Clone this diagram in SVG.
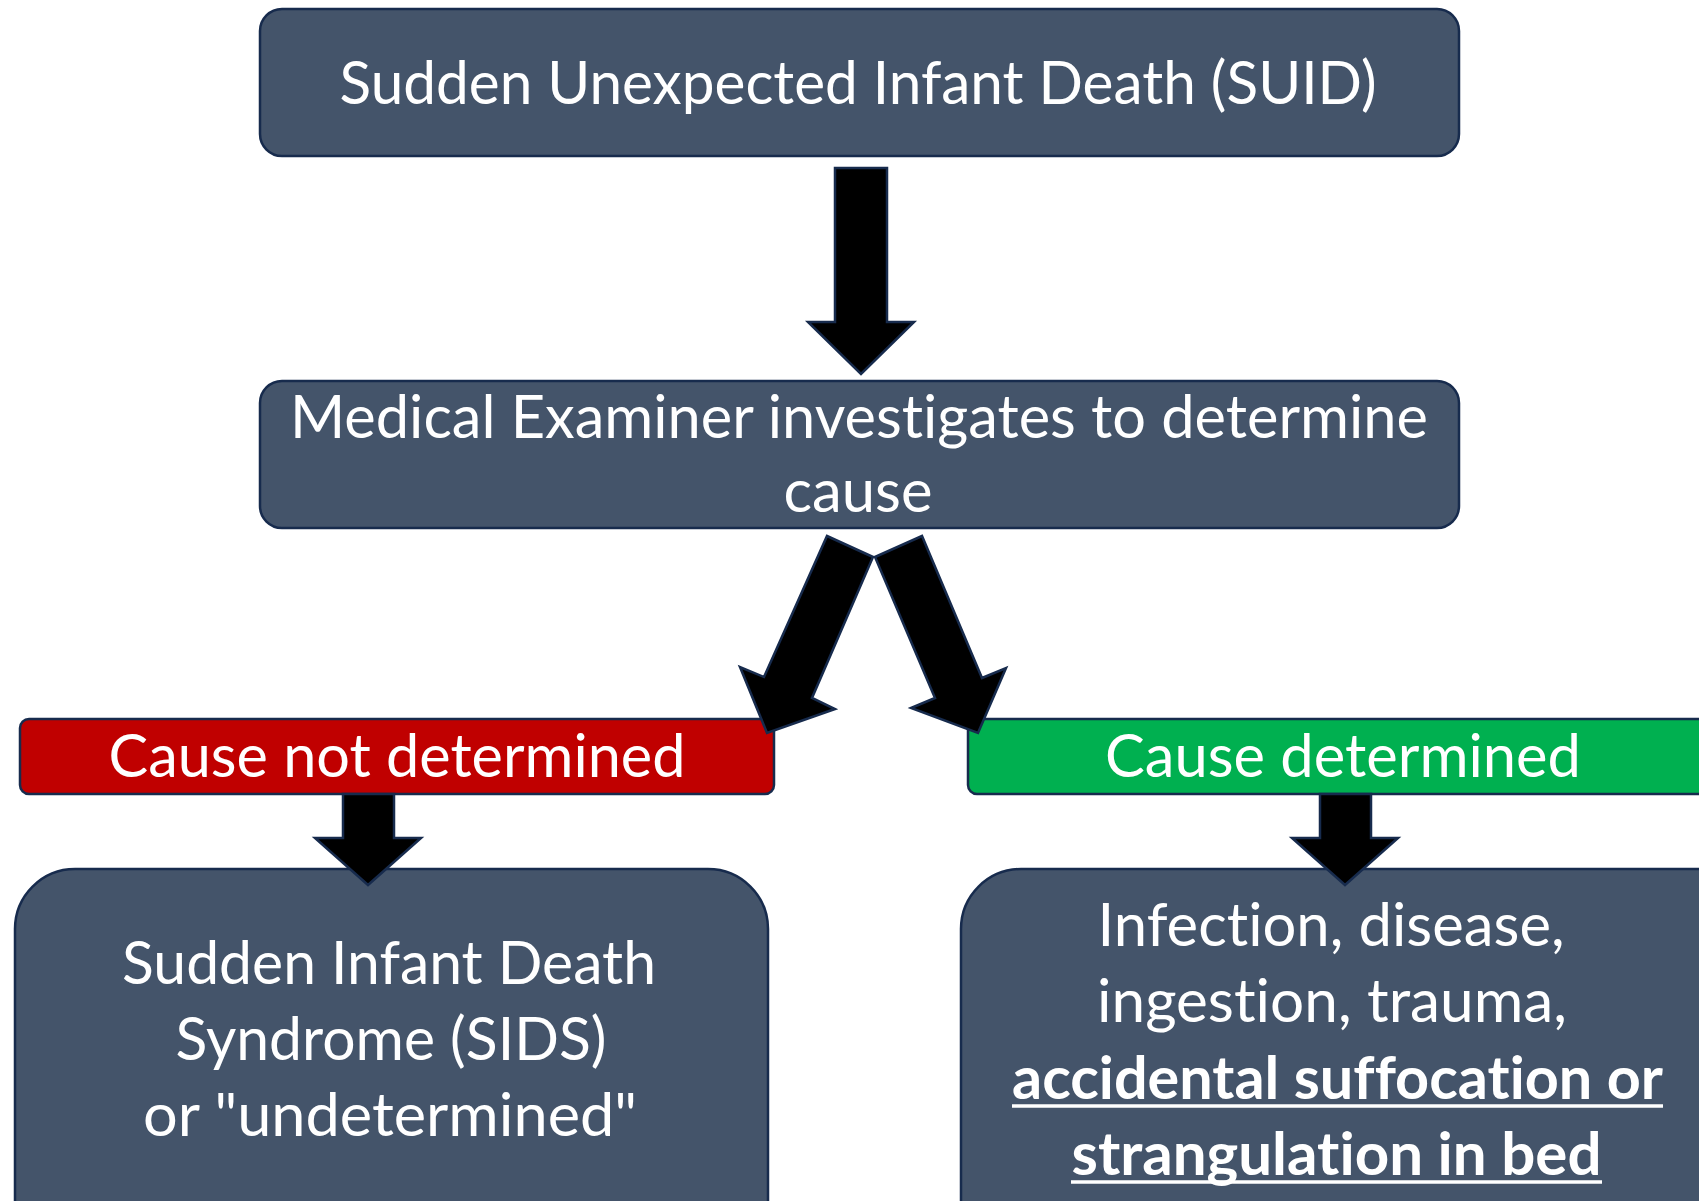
<svg xmlns="http://www.w3.org/2000/svg" width="1699" height="1201" viewBox="0 0 1699 1201">
<style>
.box{fill:#44546A;stroke:#172B4D;stroke-width:2.5}
.red{fill:#C00000;stroke:#172B4D;stroke-width:2.5}
.green{fill:#00B050;stroke:#172B4D;stroke-width:2.5}
.arrow{fill:#000;stroke:#172B4D;stroke-width:2.5;stroke-linejoin:miter}
text{font-family:Lato,"Open Sans","Liberation Sans",sans-serif;font-size:60px;fill:#fff;text-anchor:middle;font-variant-ligatures:none;font-feature-settings:"liga" 0,"dlig" 0}
.b{font-weight:bold}
.ul{stroke:#fff;stroke-width:3.5}
</style>
<rect width="1699" height="1201" fill="#fff"/>
<g id="node-suid">
<rect class="box" x="260" y="9" width="1199" height="147" rx="22"/>
<text x="858" y="104" textLength="1037" lengthAdjust="spacingAndGlyphs">Sudden Unexpected Infant Death (SUID)</text>
</g>
<g id="node-me">
<rect class="box" x="260" y="381" width="1199" height="147" rx="22"/>
<text x="859" y="438" textLength="1138" lengthAdjust="spacingAndGlyphs">Medical Examiner investigates to determine</text>
<text x="858" y="512" textLength="149" lengthAdjust="spacingAndGlyphs">cause</text>
</g>
<g id="node-not-determined">
<rect class="red" x="20" y="719" width="754" height="75" rx="9"/>
<text x="397" y="777" textLength="577" lengthAdjust="spacingAndGlyphs">Cause not determined</text>
</g>
<g id="node-determined">
<rect class="green" x="968" y="719" width="760" height="75" rx="9"/>
<text x="1343" y="777" textLength="476" lengthAdjust="spacingAndGlyphs">Cause determined</text>
</g>
<g id="node-sids">
<rect class="box" x="15" y="869" width="753" height="400" rx="60"/>
<text x="389" y="984" textLength="534" lengthAdjust="spacingAndGlyphs">Sudden Infant Death</text>
<text x="391" y="1060" textLength="431" lengthAdjust="spacingAndGlyphs">Syndrome (SIDS)</text>
<text x="390" y="1136" textLength="494" lengthAdjust="spacingAndGlyphs">or "undetermined"</text>
</g>
<g id="node-causes">
<rect class="box" x="961" y="869" width="800" height="400" rx="60"/>
<text x="1331" y="946" textLength="467" lengthAdjust="spacingAndGlyphs">Infection, disease,</text>
<text x="1332" y="1022" textLength="470" lengthAdjust="spacingAndGlyphs">ingestion, trauma,</text>
<text class="b" x="1337.5" y="1099" textLength="651" lengthAdjust="spacingAndGlyphs">accidental suffocation or</text>
<line class="ul" x1="1012" y1="1106" x2="1663" y2="1106"/>
<text class="b" x="1336.5" y="1175" textLength="530" lengthAdjust="spacingAndGlyphs">strangulation in bed</text>
<line class="ul" x1="1071" y1="1182" x2="1602" y2="1182"/>
</g>
<g id="connectors">
<polygon class="arrow" points="835,168 887,168 887,322 914,322 861,374 808,322 835,322"/>
<polygon class="arrow" points="827,536 873,557 812,698 835,709 767,733 740,667 764,677"/>
<polygon class="arrow" points="922,536 875,557 935,698 911,708 978,733 1006,668 982,678"/>
<polygon class="arrow" points="343,794 394,794 394,838 421,838 368,885 315,838 343,838"/>
<polygon class="arrow" points="1320,794 1371,794 1371,838 1398,838 1345,885 1292,838 1320,838"/>
</g>
</svg>
